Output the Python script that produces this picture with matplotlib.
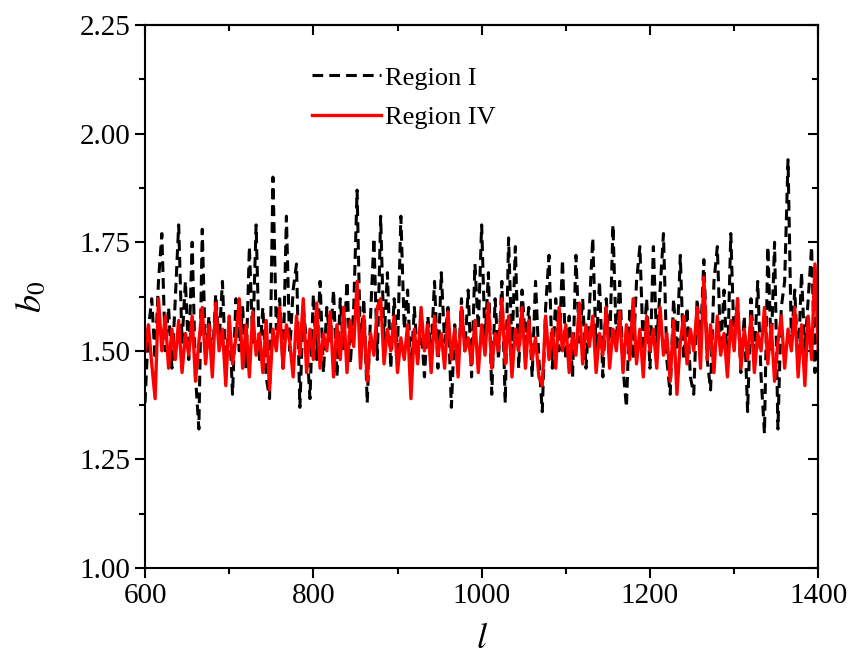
"""Recreate the b0 vs l fluctuation chart for Region I and Region IV."""

import matplotlib

matplotlib.use("Agg")
import matplotlib.pyplot as plt
import numpy as np
from matplotlib.ticker import MultipleLocator

L_START, L_STOP, L_STEP = 600, 1400, 4

region_i = [
    1.38, 1.55, 1.62, 1.48, 1.66, 1.77, 1.50, 1.60, 1.46, 1.62,
    1.79, 1.52, 1.66, 1.48, 1.75, 1.44, 1.32, 1.78, 1.48, 1.58,
    1.47, 1.63, 1.52, 1.66, 1.45, 1.58, 1.40, 1.62, 1.50, 1.60,
    1.46, 1.74, 1.52, 1.79, 1.48, 1.60, 1.44, 1.39, 1.90, 1.55,
    1.62, 1.46, 1.81, 1.50, 1.64, 1.70, 1.37, 1.60, 1.52, 1.39,
    1.63, 1.48, 1.66, 1.45, 1.60, 1.52, 1.64, 1.44, 1.62, 1.50,
    1.66, 1.47, 1.60, 1.87, 1.50, 1.62, 1.38, 1.58, 1.76, 1.48,
    1.81, 1.52, 1.68, 1.46, 1.62, 1.50, 1.81, 1.55, 1.64, 1.45,
    1.60, 1.48, 1.56, 1.44, 1.58, 1.50, 1.66, 1.46, 1.68, 1.52,
    1.60, 1.37, 1.56, 1.45, 1.62, 1.50, 1.64, 1.44, 1.70, 1.55,
    1.79, 1.52, 1.68, 1.40, 1.62, 1.48, 1.66, 1.38, 1.76, 1.50,
    1.74, 1.46, 1.64, 1.52, 1.60, 1.44, 1.66, 1.48, 1.36, 1.60,
    1.72, 1.46, 1.62, 1.50, 1.71, 1.48, 1.58, 1.44, 1.72, 1.52,
    1.62, 1.46, 1.60, 1.76, 1.50, 1.66, 1.44, 1.62, 1.50, 1.79,
    1.52, 1.66, 1.46, 1.37, 1.60, 1.48, 1.66, 1.74, 1.50, 1.62,
    1.46, 1.74, 1.52, 1.64, 1.77, 1.48, 1.40, 1.62, 1.50, 1.72,
    1.48, 1.60, 1.44, 1.40, 1.62, 1.52, 1.71, 1.48, 1.41, 1.66,
    1.74, 1.50, 1.64, 1.46, 1.77, 1.52, 1.62, 1.45, 1.58, 1.36,
    1.62, 1.48, 1.66, 1.44, 1.31, 1.74, 1.50, 1.75, 1.32, 1.60,
    1.66, 1.94, 1.52, 1.64, 1.46, 1.68, 1.50, 1.62, 1.74, 1.45, 1.70,
]

region_iv = [
    1.50, 1.56, 1.47, 1.39, 1.62, 1.50, 1.58, 1.46, 1.55, 1.48,
    1.57, 1.45, 1.54, 1.49, 1.58, 1.43, 1.52, 1.60, 1.47, 1.56,
    1.44, 1.61, 1.50, 1.55, 1.42, 1.58, 1.47, 1.53, 1.62, 1.46,
    1.56, 1.44, 1.59, 1.49, 1.54, 1.45, 1.57, 1.41, 1.55, 1.50,
    1.60, 1.46, 1.56, 1.52, 1.44, 1.58, 1.49, 1.62, 1.45, 1.55,
    1.48, 1.61, 1.46, 1.54, 1.50, 1.59, 1.44, 1.56, 1.48, 1.60,
    1.45, 1.57, 1.51, 1.66, 1.46, 1.58, 1.43, 1.54, 1.49, 1.60,
    1.62, 1.47, 1.55, 1.50, 1.58, 1.45, 1.53, 1.48, 1.56, 1.39,
    1.55, 1.47, 1.60, 1.50, 1.56, 1.45, 1.58, 1.49, 1.54, 1.46,
    1.59, 1.48, 1.55, 1.44, 1.60, 1.50, 1.53, 1.47, 1.57, 1.45,
    1.56, 1.49, 1.61, 1.46, 1.54, 1.50, 1.62, 1.47, 1.58, 1.44,
    1.55, 1.50, 1.60, 1.46, 1.57, 1.48, 1.53, 1.44, 1.42, 1.58,
    1.48, 1.55, 1.46, 1.60, 1.50, 1.56, 1.45, 1.54, 1.49, 1.61,
    1.47, 1.56, 1.51, 1.58, 1.45, 1.54, 1.49, 1.60, 1.46, 1.55,
    1.50, 1.59, 1.45, 1.56, 1.48, 1.62, 1.47, 1.55, 1.44, 1.58,
    1.50, 1.55, 1.46, 1.60, 1.49, 1.54, 1.43, 1.57, 1.40, 1.52,
    1.58, 1.47, 1.55, 1.50, 1.60, 1.46, 1.67, 1.48, 1.56, 1.45,
    1.58, 1.49, 1.54, 1.44, 1.57, 1.50, 1.62, 1.46, 1.55, 1.48,
    1.58, 1.45, 1.54, 1.50, 1.60, 1.47, 1.56, 1.43, 1.52, 1.58,
    1.46, 1.55, 1.50, 1.60, 1.44, 1.56, 1.42, 1.58, 1.48, 1.70, 1.50,
]

x_ticks = [600, 800, 1000, 1200, 1400]
y_ticks = [1.00, 1.25, 1.50, 1.75, 2.00, 2.25]


def main() -> None:
    plt.rcParams["font.family"] = ["Liberation Serif", "DejaVu Serif"]
    plt.rcParams["mathtext.fontset"] = "stix"

    l_values = np.arange(L_START, L_STOP + 1, L_STEP)

    figure = plt.figure(figsize=(8.48, 6.59), dpi=100)
    axis = figure.add_axes([0.171, 0.138, 0.794, 0.824])

    axis.plot(l_values, region_i, color="black", linewidth=2.2, linestyle=(0, (3.5, 2)), label="Region I")
    axis.plot(l_values, region_iv, color="#ff0000", linewidth=2.4, label="Region IV")

    axis.set_xlim(600, 1400)
    axis.set_ylim(1.00, 2.25)
    axis.set_xticks(x_ticks)
    axis.set_yticks(y_ticks, [f"{v:.2f}" for v in y_ticks])
    axis.xaxis.set_minor_locator(MultipleLocator(100))
    axis.yaxis.set_minor_locator(MultipleLocator(0.125))
    axis.tick_params(which="both", direction="out", width=1.5, labelsize=21, top=False, right=False)
    axis.tick_params(which="major", length=7)
    axis.tick_params(which="minor", length=4)
    for spine in axis.spines.values():
        spine.set_linewidth(1.5)

    # mirrored ticks on top and right point into the plot
    top = axis.secondary_xaxis("top")
    top.set_xticks(x_ticks, [])
    top.xaxis.set_minor_locator(MultipleLocator(100))
    right = axis.secondary_yaxis("right")
    right.set_yticks(y_ticks, [])
    right.yaxis.set_minor_locator(MultipleLocator(0.125))
    for side in (top, right):
        side.tick_params(which="both", direction="in", width=1.5)
        side.tick_params(which="major", length=7)
        side.tick_params(which="minor", length=4)
        for spine in side.spines.values():
            spine.set_linewidth(1.5)

    axis.set_xlabel("$l$", fontsize=26, labelpad=10)
    axis.set_ylabel("$b_0$", fontsize=26, labelpad=22)

    axis.legend(loc="upper left", bbox_to_anchor=(0.213, 0.968), frameon=False, fontsize=19,
                handlelength=2.6, handletextpad=0.15, labelspacing=0.6)

    figure.savefig("out.png", dpi=100)


if __name__ == "__main__":
    main()
